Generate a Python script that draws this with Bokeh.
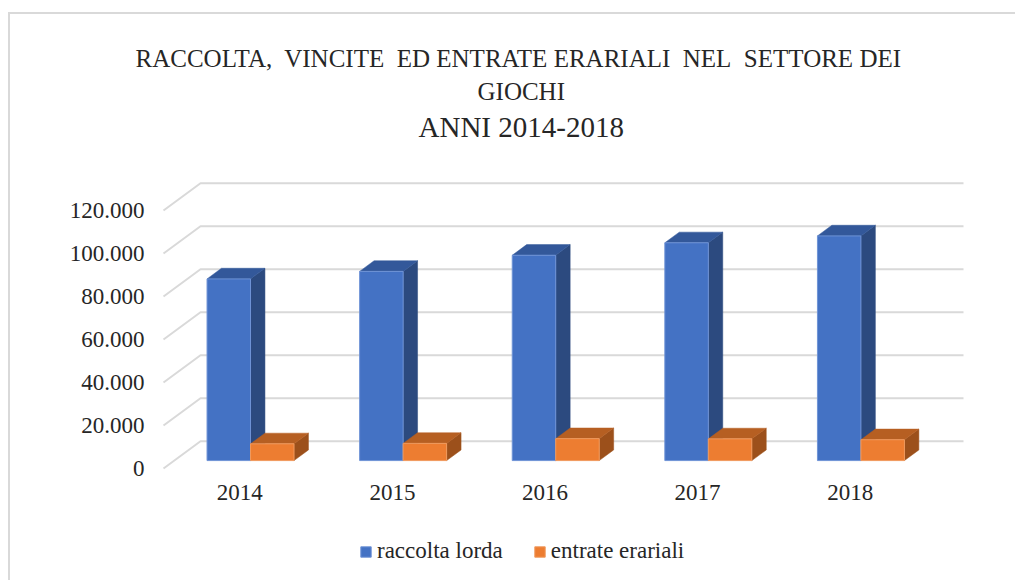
import numpy as np
from bokeh.plotting import figure
from bokeh.models import (FixedTicker, Title, Legend, LegendItem, Range1d)
from bokeh.embed import file_html
from bokeh.resources import INLINE

# ---------------- data ----------------
years = ["2014", "2015", "2016", "2017", "2018"]
raccolta_lorda = [84500, 88000, 95500, 101300, 104500]
entrate_erariali = [7800, 8000, 10200, 10100, 9700]
series_names = ["raccolta lorda", "entrate erariali"]
y_ticks = [0, 20000, 40000, 60000, 80000, 100000, 120000]
y_tick_labels = ["0", "20.000", "40.000", "60.000", "80.000", "100.000", "120.000"]

# ---------------- styling / geometry ----------------
FONT = "'Liberation Serif', 'DejaVu Serif', serif"
TXT = "#262626"
GRID = "#d9d9d9"
FRONT_LEFT_PX = 163.0   # page x of front-left edge of floor
CAT_PX = 152.6          # px per category
ZERO_PX = 468.0         # page y of value 0 on front plane
PXU = 258.0 / 120000    # px per value unit
CANVAS_X0, CANVAS_Y0 = 10, 14
W, H = 1005, 566
FRAME_L, FRAME_R, FRAME_T, FRAME_B = 150, 1000, 145, CANVAS_Y0 + H
XAXIS_PX = 478          # page y where the category labels hang

DX = 37.0 / CAT_PX      # wall depth in category units
DV = 27.3 / PXU         # wall depth in value units
BAR_W = 0.285
D_F, D_B = 0.29, 0.68   # bar front/back depth fractions

x_range = Range1d((FRAME_L - FRONT_LEFT_PX) / CAT_PX - 0.5,
                  (FRAME_R - FRONT_LEFT_PX) / CAT_PX - 0.5)
y_range = Range1d((ZERO_PX - FRAME_B) / PXU, (ZERO_PX - FRAME_T) / PXU)

p = figure(frame_width=FRAME_R - FRAME_L, frame_height=FRAME_B - FRAME_T,
           x_range=x_range, y_range=y_range,
           output_backend="svg", toolbar_location=None, title=None,
           min_border_left=FRAME_L - CANVAS_X0,
           min_border_right=W - (FRAME_R - CANVAS_X0),
           min_border_top=FRAME_T - CANVAS_Y0,
           min_border_bottom=0)
p.margin = (12, 0, 0, 8)
p.styles = {"border-left": "2px solid #d9d9d9", "border-top": "2px solid #d9d9d9"}
p.outline_line_color = None
p.xgrid.visible = False
p.ygrid.visible = False
p.background_fill_color = "white"
p.border_fill_color = "white"

# ---------------- 3D gridlines (side wall + back wall) ----------------
n = len(years)
gx, gy = [], []
for v in y_ticks:
    gx.append([-0.5, -0.5 + DX, n - 0.5 + DX])
    gy.append([v, v + DV, v + DV])
p.multi_line(gx, gy, line_color=GRID, line_width=2)

# ---------------- 3D bars ----------------
series = [raccolta_lorda, entrate_erariali]
front_cols = ["#4472C4", "#ED7D31"]
side_cols = ["#2C4A7F", "#9C501B"]
top_cols = ["#33589A", "#B65F22"]
edge_cols = ["#6F93D6", "#F09A5E"]

renderers_front = [[], []]
for i in range(n):
    for s in range(2):
        v = series[s][i]
        xl = i - BAR_W + s * BAR_W
        xr = xl + BAR_W
        p.patch([xr + D_F * DX, xr + D_B * DX, xr + D_B * DX, xr + D_F * DX],
                [D_F * DV, D_B * DV, v + D_B * DV, v + D_F * DV],
                fill_color=side_cols[s], line_color=side_cols[s], line_width=0.5)
        p.patch([xl + D_F * DX, xr + D_F * DX, xr + D_B * DX, xl + D_B * DX],
                [v + D_F * DV, v + D_F * DV, v + D_B * DV, v + D_B * DV],
                fill_color=top_cols[s], line_color=top_cols[s], line_width=0.5)
        r = p.quad(left=[xl + D_F * DX], right=[xr + D_F * DX],
                   bottom=[D_F * DV], top=[v + D_F * DV],
                   fill_color=front_cols[s], line_color=edge_cols[s], line_width=1)
        renderers_front[s].append(r)

# ---------------- axes ----------------
yax = p.yaxis[0]
yax.ticker = FixedTicker(ticks=y_ticks)
yax.major_label_overrides = {t: l for t, l in zip(y_ticks, y_tick_labels)}
xax = p.xaxis[0]
xax.ticker = FixedTicker(ticks=list(range(n)))
xax.major_label_overrides = {i: y for i, y in enumerate(years)}
xax.fixed_location = (ZERO_PX - XAXIS_PX) / PXU
for ax in (xax, yax):
    ax.axis_line_color = None
    ax.major_tick_line_color = None
    ax.minor_tick_line_color = None
    ax.major_tick_out = 0
    ax.major_tick_in = 0
    ax.major_label_text_font = FONT
    ax.major_label_text_font_size = "23px"
    ax.major_label_text_color = TXT
yax.major_label_standoff = 6
xax.major_label_standoff = 6

# ---------------- legend ----------------
legend = Legend(items=[LegendItem(label=series_names[s], renderers=[renderers_front[s][0]])
                       for s in range(2)],
                orientation="horizontal", location=(209, 16),
                glyph_width=13, glyph_height=13, label_standoff=5, spacing=30,
                padding=0, margin=0, border_line_color=None,
                background_fill_alpha=0,
                label_text_font=FONT, label_text_font_size="23px",
                label_text_color=TXT)
p.add_layout(legend, "center")

# ---------------- titles ----------------
t3 = Title(text="ANNI 2014-2018", align="left", offset=268, text_font=FONT,
           text_font_size="29px", text_font_style="normal", text_color=TXT, standoff=5)
t2 = Title(text="GIOCHI", align="left", offset=327, text_font=FONT,
           text_font_size="25px", text_font_style="normal", text_color=TXT, standoff=4)
t1 = Title(text="RACCOLTA,\u00a0 VINCITE\u00a0 ED ENTRATE ERARIALI\u00a0 NEL\u00a0 SETTORE DEI",
           align="left", offset=-15, text_font=FONT, text_font_size="25px",
           text_font_style="normal", text_color=TXT, standoff=4)
p.add_layout(t3, "above")
p.add_layout(t2, "above")
p.add_layout(t1, "above")

open("out.html", "w").write(file_html(p, INLINE))
